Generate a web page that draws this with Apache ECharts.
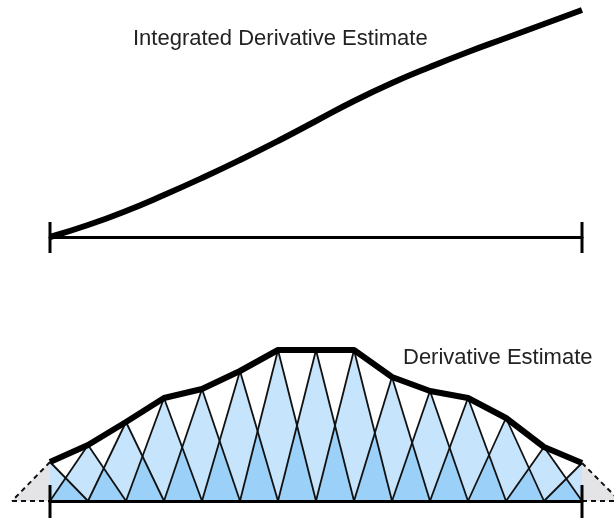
<!DOCTYPE html>
<html><head><meta charset="utf-8">
<script src="https://cdn.jsdelivr.net/npm/echarts@6/dist/echarts.min.js"></script>
<style>html,body{margin:0;padding:0;background:#fff}#c{width:614px;height:518px}</style>
</head><body><div id="c"></div>
<script>
// ---- data ----
const steps = [0,1,2,3,4,5,6,7,8,9,10,11,12,13,14];
const derivative = [39,56,79,103,112,130,151,151,151,124,110,103,83,54,38];
const integrated = [0,12,26,42,59,77,96,116,136,154,170,185,199,213,227];
const endTicks = [0,14];
const topLabel = 'Integrated Derivative Estimate';
const bottomLabel = 'Derivative Estimate';

// ---- styles ----
const LIGHT = '#c6e4fb', DARK = '#9bd1f8', GREY = '#e4e4e6', INK = '#000';
const n = steps.length;

const chart = echarts.init(document.getElementById('c'), null, {renderer:'canvas'});

function fillItem(params, api){
  const i = params.dataIndex;
  const x = api.value(0), h = api.value(1);
  const c = (a,b)=>api.coord([a,b]);
  const kids = [];
  if (i === 0){
    kids.push({type:'polygon', shape:{points:[c(x-1,0), c(x,h), c(x,0)]}, style:{fill:GREY}});
    kids.push({type:'polygon', shape:{points:[c(x,0), c(x,h), c(x+1,0)]}, style:{fill:LIGHT}});
  } else if (i === n-1){
    kids.push({type:'polygon', shape:{points:[c(x-1,0), c(x,h), c(x,0)]}, style:{fill:LIGHT}});
    kids.push({type:'polygon', shape:{points:[c(x,0), c(x,h), c(x+1,0)]}, style:{fill:GREY}});
  } else {
    kids.push({type:'polygon', shape:{points:[c(x-1,0), c(x,h), c(x+1,0)]}, style:{fill:LIGHT}});
  }
  return {type:'group', children:kids};
}
function overlapItem(params, api){
  const i = params.dataIndex;
  if (i >= n-1) return null;
  const x = api.value(0), h = api.value(1);
  const h2 = derivative[i+1], x2 = steps[i+1];
  const t = h/(h+h2);
  const c = (a,b)=>api.coord([a,b]);
  return {type:'polygon', shape:{points:[c(x,0), c(x+t*(x2-x), t*h2), c(x2,0)]}, style:{fill:DARK}};
}
function edgeItem(params, api){
  const i = params.dataIndex;
  const x = api.value(0), h = api.value(1);
  const c = (a,b)=>api.coord([a,b]);
  const top = c(x,h), L = c(x-1,0), R = c(x+1,0);
  const solid = {stroke:'#111', lineWidth:1.8};
  const dashed = {stroke:'#111', lineWidth:2, lineDash:[5,4]};
  const kids = [];
  kids.push({type:'line', shape:{x1:top[0],y1:top[1],x2:L[0],y2:L[1]}, style: i===0?dashed:solid});
  kids.push({type:'line', shape:{x1:top[0],y1:top[1],x2:R[0],y2:R[1]}, style: i===n-1?dashed:solid});
  if (i===0){ const p=c(x,0); kids.push({type:'line', shape:{x1:L[0],y1:L[1],x2:p[0],y2:p[1]}, style:dashed}); }
  if (i===n-1){ const p=c(x,0); kids.push({type:'line', shape:{x1:p[0],y1:p[1],x2:R[0],y2:R[1]}, style:dashed}); }
  return {type:'group', children:kids};
}
function tickItem(up, down){
  return function(params, api){
    const p = api.coord([api.value(0), 0]);
    return {type:'line', shape:{x1:p[0],y1:p[1]-up,x2:p[0],y2:p[1]+down}, style:{stroke:INK, lineWidth:3}};
  };
}

const dPts = steps.map((s,i)=>[s, derivative[i]]);
const iPts = steps.map((s,i)=>[s, integrated[i]]);
const tPts = endTicks.map(s=>[s,0]);

const axisX = (gi)=>({type:'value', gridIndex:gi, min:0, max:14, z:10,
  axisLine:{show:true, onZero:true, lineStyle:{color:INK, width:3}},
  axisTick:{show:false}, axisLabel:{show:false}, splitLine:{show:false}});
const axisY = (gi,max)=>({type:'value', gridIndex:gi, min:0, max:max, show:false, splitLine:{show:false}});

chart.setOption({
  animation:false,
  backgroundColor:'#fff',
  grid:[
    {left:50, right:32, top:10, height:227},
    {left:50, right:32, top:350, height:151}
  ],
  xAxis:[axisX(0), axisX(1)],
  yAxis:[axisY(0,227), axisY(1,151)],
  graphic:[
    {type:'text', left:133, top:28, z:100, style:{text:topLabel, fill:'#222', font:'22px "Liberation Sans", Arial, sans-serif'}},
    {type:'text', left:403, top:347, z:100, style:{text:bottomLabel, fill:'#222', font:'22px "Liberation Sans", Arial, sans-serif'}}
  ],
  series:[
    {type:'line', xAxisIndex:0, yAxisIndex:0, data:iPts, smooth:0.5, symbol:'none', clip:false,
     lineStyle:{color:INK, width:6, cap:'butt'}, z:5},
    {type:'custom', xAxisIndex:0, yAxisIndex:0, data:tPts, renderItem:tickItem(15,16), clip:false, z:20},
    {type:'custom', xAxisIndex:1, yAxisIndex:1, data:dPts, renderItem:fillItem, clip:false, z:1},
    {type:'custom', xAxisIndex:1, yAxisIndex:1, data:dPts, renderItem:overlapItem, clip:false, z:2},
    {type:'custom', xAxisIndex:1, yAxisIndex:1, data:dPts, renderItem:edgeItem, clip:false, z:3},
    {type:'line', xAxisIndex:1, yAxisIndex:1, data:dPts, symbol:'none', clip:false,
     lineStyle:{color:INK, width:6, join:'round'}, z:5},
    {type:'custom', xAxisIndex:1, yAxisIndex:1, data:tPts, renderItem:tickItem(16,20), clip:false, z:20}
  ]
});
</script></body></html>
